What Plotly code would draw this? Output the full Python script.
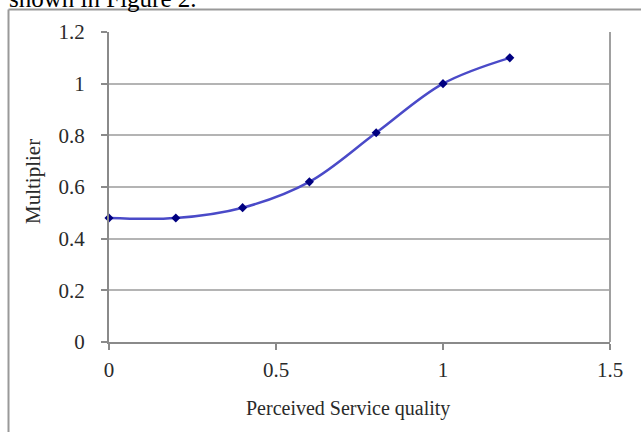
import plotly.graph_objects as go

# Multiplier as a function of perceived service quality
quality = [0, 0.2, 0.4, 0.6, 0.8, 1.0, 1.2]
multiplier = [0.48, 0.48, 0.52, 0.62, 0.81, 1.0, 1.1]

x_ticks = [0, 0.5, 1, 1.5]
x_tick_text = ["0", "0.5", "1", "1.5"]
y_ticks = [0, 0.2, 0.4, 0.6, 0.8, 1.0, 1.2]
y_tick_text = ["0", "0.2", "0.4", "0.6", "0.8", "1", "1.2"]

W, H = 641, 432
L, R, T, B = 109, 31, 32, 90
PW, PH = W - L - R, H - T - B


def px(xp):
    return (xp - L) / PW


def py(yp):
    return (H - B - yp) / PH


SERIF = "Liberation Serif, Times New Roman, serif"

fig = go.Figure()
fig.add_trace(go.Scatter(
    x=quality, y=multiplier, mode="lines+markers",
    line=dict(color="#4a4ac8", width=2.5, shape="spline", smoothing=1.0),
    marker=dict(symbol="diamond", size=7, color="#000080"),
    showlegend=False, cliponaxis=False,
))

axis_common = dict(
    showline=True, linecolor="#8a8a8a", linewidth=2,
    ticks="outside", ticklen=6, tickcolor="#8a8a8a", tickwidth=2,
    tickfont=dict(family=SERIF, size=21, color="#2a2a2a"),
    zeroline=False, mirror=False,
)

fig.update_xaxes(
    range=[0, 1.5], tickvals=x_ticks, ticktext=x_tick_text,
    showgrid=False, ticklabelstandoff=2, **axis_common,
)
fig.update_yaxes(
    range=[0, 1.2], tickvals=y_ticks, ticktext=y_tick_text,
    showgrid=True, gridcolor="#b4b4b4", gridwidth=2,
    ticklabelstandoff=12, **axis_common,
)

shapes = [
    # right edge of the plot area
    dict(type="line", xref="paper", yref="paper", x0=1, x1=1, y0=0, y1=1,
         line=dict(color="#a0a0a0", width=2)),
    # outer chart frame (top and left)
    dict(type="line", xref="paper", yref="paper",
         x0=px(8.5), x1=px(650), y0=py(9.5), y1=py(9.5),
         line=dict(color="#999999", width=2)),
    dict(type="line", xref="paper", yref="paper",
         x0=px(8.5), x1=px(8.5), y0=py(9.5), y1=py(445),
         line=dict(color="#999999", width=2)),
]

annotations = [
    dict(text="shown in Figure 2.", xref="paper", yref="paper",
         x=px(7), y=py(14), xanchor="left", yanchor="bottom",
         showarrow=False, font=dict(family=SERIF, size=25, color="#000000")),
    dict(text="Perceived Service quality", xref="paper", yref="paper",
         x=px(348), y=py(408), xanchor="center", yanchor="middle",
         showarrow=False, font=dict(family=SERIF, size=20, color="#2a2a2a")),
    dict(text="Multiplier", xref="paper", yref="paper",
         x=px(33), y=py(182), xanchor="center", yanchor="middle",
         textangle=-90, showarrow=False,
         font=dict(family=SERIF, size=21, color="#2a2a2a")),
]

fig.update_layout(
    width=W, height=H,
    margin=dict(l=L, r=R, t=T, b=B),
    paper_bgcolor="white", plot_bgcolor="white",
    shapes=shapes, annotations=annotations,
)

fig.write_html("out.html")
